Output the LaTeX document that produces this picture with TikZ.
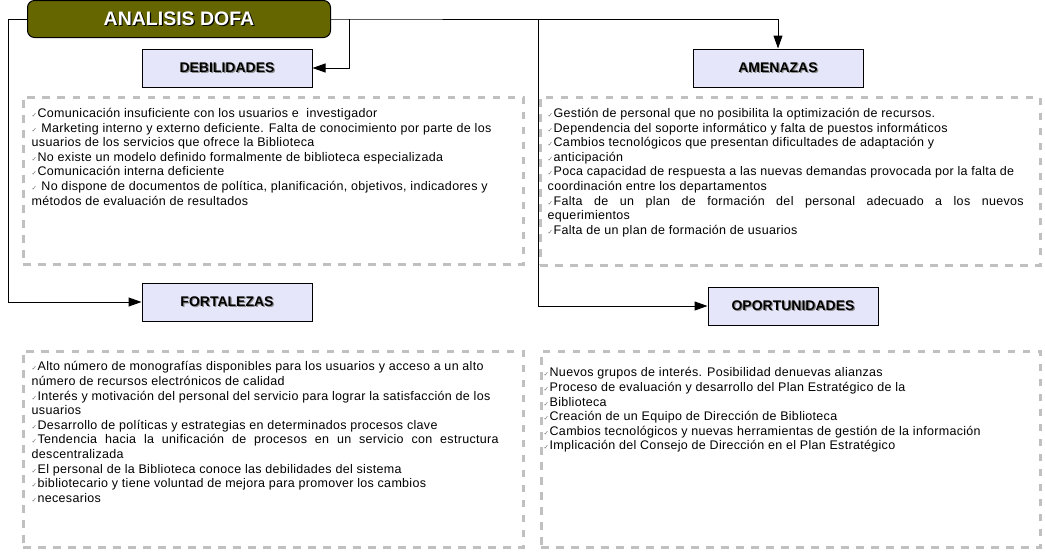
\documentclass[tikz,border=0pt]{standalone}
\usepackage{fontspec}
\setmainfont{Liberation Sans}
\newfontfamily\symfont{DejaVu Sans}
\newfontfamily\listfont[LetterSpace=2.5]{Liberation Sans}
\usetikzlibrary{arrows.meta}
\usetikzlibrary{positioning}
\definecolor{olivedofa}{HTML}{666600}
\definecolor{lavbox}{HTML}{E6E6FA}
\definecolor{dashgray}{HTML}{C0C0C0}
\definecolor{tickgray}{HTML}{707070}
\newcommand\chk{{\color{tickgray}\symfont\fontsize{6.5}{6}\selectfont ✓}\kern0.5pt}
\newcommand\shadowed[2]{\rlap{\kern1.2pt\raisebox{-1.2pt}{\color{#1}#2}}#2}
\tikzstyle{dofa} = [rectangle, rounded corners=7pt, minimum width=303pt, minimum height=37pt, fill=olivedofa, draw=black, line width=1pt, text=white, font=\fontsize{19.5}{20}\selectfont\bfseries]
\tikzstyle{class} = [rectangle, minimum width=170pt, minimum height=38pt, fill=lavbox, draw=black, line width=1pt, font=\fontsize{14}{15}\selectfont\bfseries]
\tikzstyle{dashbox} = [rectangle, draw=dashgray, line width=3pt, dash pattern=on 7.5pt off 7.5pt]
\tikzstyle{lista} = [inner sep=0pt, align=left, font=\listfont\fontsize{12.5}{14.6}\selectfont]
\tikzstyle{conn} = [draw=black, line width=1pt]
\tikzstyle{flecha} = [conn, -{Triangle[length=13pt,width=9pt]}]

\begin{document}
\begin{tikzpicture}[x=1pt, y=-1pt, node distance=10pt]
 \useasboundingbox (0,0) rectangle (1045,552);

 % cabecera y categorias
 \node (dofa) [dofa] at (179,19) {\shadowed{black}{ANALISIS DOFA}};
 \node (deb) [class] at (227,68) {\shadowed{black!45}{DEBILIDADES}};
 \node (amen) [class] at (778,68) {\shadowed{black!45}{AMENAZAS}};
 \node (fort) [class] at (227,302) {\shadowed{black!45}{FORTALEZAS}};
 \node (opor) [class] at (793,306) {\shadowed{black!45}{OPORTUNIDADES}};

 % cuadros punteados
 \node (debbox) [dashbox, minimum width=500pt, minimum height=167pt] at (273,180.5) {};
 \node (amenbox) [dashbox, minimum width=500pt, minimum height=168pt] at (790,181) {};
 \node (fortbox) [dashbox, minimum width=500pt, minimum height=196pt] at (273,449) {};
 \node (oporbox) [dashbox, minimum width=499pt, minimum height=196pt] at (790.5,449) {};

 % listas
 \node (debtxt) [lista, below right=12.5pt and 10pt of debbox.north west] {
  \chk Comunicación insuficiente con los usuarios e\ \ investigador\\
  \chk\ Marketing interno y externo deficiente. Falta de conocimiento por parte de los\\
  usuarios de los servicios que ofrece la Biblioteca\\
  \chk No existe un modelo definido formalmente de biblioteca especializada\\
  \chk Comunicación interna deficiente\\
  \chk\ No dispone de documentos de política, planificación, objetivos, indicadores y\\
  métodos de evaluación de resultados};
 \node (amentxt) [lista, below right=12.5pt and 9pt of amenbox.north west] {
  \chk Gestión de personal que no posibilita la optimización de recursos.\\
  \chk Dependencia del soporte informático y falta de puestos informáticos\\
  \chk Cambios tecnológicos que presentan dificultades de adaptación y\\
  \chk anticipación\\
  \chk Poca capacidad de respuesta a las nuevas demandas provocada por la falta de\\
  coordinación entre los departamentos\\
  \makebox[476pt][s]{\chk Falta de un plan de formación del personal adecuado a los nuevos}\\
  equerimientos\\
  \chk Falta de un plan de formación de usuarios};
 \node (forttxt) [lista, below right=12pt and 10pt of fortbox.north west] {
  \chk Alto número de monografías disponibles para los usuarios y acceso a un alto\\
  número de recursos electrónicos de calidad\\
  \chk Interés y motivación del personal del servicio para lograr la satisfacción de los\\
  usuarios\\
  \chk Desarrollo de políticas y estrategias en determinados procesos clave\\
  \makebox[467pt][s]{\chk Tendencia hacia la unificación de procesos en un servicio con estructura}\\
  descentralizada\\
  \chk El personal de la Biblioteca conoce las debilidades del sistema\\
  \chk bibliotecario y tiene voluntad de mejora para promover los cambios\\
  \chk necesarios};
 \node (oportxt) [lista, below right=18pt and 4pt of oporbox.north west] {
  \chk Nuevos grupos de interés. Posibilidad denuevas alianzas\\
  \chk Proceso de evaluación y desarrollo del Plan Estratégico de la\\
  \chk Biblioteca\\
  \chk Creación de un Equipo de Dirección de Biblioteca\\
  \chk Cambios tecnológicos y nuevas herramientas de gestión de la información\\
  \chk Implicación del Consejo de Dirección en el Plan Estratégico};

 % conectores
 \coordinate (jdeb) at (349,19);
 \coordinate (jopor) at (538,19);
 \draw [conn] (dofa.east) -- (jdeb) -- (jopor);
 \draw [flecha] (jopor) -| (amen.north);
 \draw [flecha] (jdeb) |- (deb.east);
 \draw [flecha] (jopor) |- (opor.west);
 \draw [flecha] (dofa.west) -- ++(-19,0) |- (fort.west);
\end{tikzpicture}
\end{document}
